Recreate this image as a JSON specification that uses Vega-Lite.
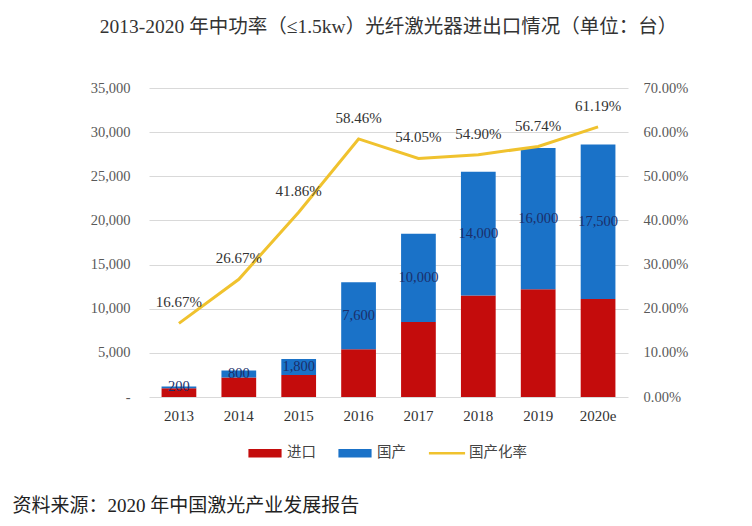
{
  "$schema": "https://vega.github.io/schema/vega-lite/v6.json",
  "width": 479,
  "height": 309,
  "autosize": {"type": "none"},
  "padding": {"left": 149, "top": 88, "right": 124, "bottom": 129},
  "background": "white",
  "config": {"view": {"stroke": null}},
  "title": {
    "text": "2013-2020 年中功率（≤1.5kw）光纤激光器进出口情况（单位：台）",
    "font": "Liberation Serif, Noto Sans CJK SC",
    "fontSize": 19.5,
    "fontWeight": "normal",
    "color": "#333333",
    "anchor": "middle",
    "frame": "group",
    "baseline": "alphabetic",
    "offset": 28
  },
  "datasets": {
    "bars": [
      {"year": "2013", "type": "进口", "value": 1000},
      {"year": "2013", "type": "国产", "value": 200},
      {"year": "2014", "type": "进口", "value": 2200},
      {"year": "2014", "type": "国产", "value": 800},
      {"year": "2015", "type": "进口", "value": 2500},
      {"year": "2015", "type": "国产", "value": 1800},
      {"year": "2016", "type": "进口", "value": 5400},
      {"year": "2016", "type": "国产", "value": 7600},
      {"year": "2017", "type": "进口", "value": 8500},
      {"year": "2017", "type": "国产", "value": 10000},
      {"year": "2018", "type": "进口", "value": 11500},
      {"year": "2018", "type": "国产", "value": 14000},
      {"year": "2019", "type": "进口", "value": 12200},
      {"year": "2019", "type": "国产", "value": 16000},
      {"year": "2020e", "type": "进口", "value": 11100},
      {"year": "2020e", "type": "国产", "value": 17500}
    ],
    "ratio": [
      {"year": "2013", "ratio": 0.1667},
      {"year": "2014", "ratio": 0.2667},
      {"year": "2015", "ratio": 0.4186},
      {"year": "2016", "ratio": 0.5846},
      {"year": "2017", "ratio": 0.5405},
      {"year": "2018", "ratio": 0.549},
      {"year": "2019", "ratio": 0.5674},
      {"year": "2020e", "ratio": 0.6119}
    ]
  },
  "encoding": {
    "x": {
      "field": "year",
      "type": "nominal",
      "scale": {"domain": ["2013", "2014", "2015", "2016", "2017", "2018", "2019", "2020e"], "paddingInner": 0.42, "paddingOuter": 0.21},
      "title": "资料来源：2020 年中国激光产业发展报告",
      "axis": {
        "labelAngle": 0,
        "labelFont": "Liberation Serif",
        "labelFontSize": 15,
        "labelColor": "#333333",
        "labelPadding": 11,
        "ticks": false,
        "domain": false,
        "titleFont": "Liberation Serif, Noto Sans CJK SC",
        "titleFontSize": 19,
        "titleFontWeight": "normal",
        "titleColor": "#222222",
        "titleAnchor": "start",
        "titleAlign": "left",
        "titleBaseline": "middle",
        "titleX": -137,
        "titleY": 108
      }
    }
  },
  "layer": [
    {
      "data": {"name": "bars"},
      "transform": [
        {"stack": "value", "groupby": ["year"], "sort": [{"field": "type", "order": "descending"}], "as": ["v0", "v1"]}
      ],
      "encoding": {
        "y": {
          "field": "v1",
          "type": "quantitative",
          "title": null,
          "scale": {"domain": [0, 35000]},
          "axis": {
            "orient": "left",
            "values": [0, 5000, 10000, 15000, 20000, 25000, 30000, 35000],
            "labelExpr": "datum.value === 0 ? '-' : format(datum.value, ',')",
            "labelFont": "Liberation Serif",
            "labelFontSize": 14.5,
            "labelColor": "#595959",
            "labelPadding": 19,
            "ticks": false,
            "domain": false,
            "grid": true,
            "gridColor": "#d9d9d9"
          }
        }
      },
      "layer": [
        {
          "mark": {"type": "bar"},
          "encoding": {
            "y2": {"field": "v0"},
            "color": {
              "field": "type",
              "type": "nominal",
              "scale": {"domain": ["进口", "国产", "国产化率"], "range": ["#c40c0c", "#1a72c8", "#f0c22e"]},
              "legend": {
                "orient": "none",
                "legendX": 99,
                "legendY": 348,
                "direction": "horizontal",
                "title": null,
                "labelFont": "Liberation Serif, Noto Sans CJK SC",
                "labelFontSize": 14.5,
                "labelColor": "#444444",
                "columnPadding": 22,
                "labelOffset": 5,
                "symbolSize": 1100,
                "symbolType": "M-1,-0.25H1V0.25H-1Z",
                "encode": {
                  "symbols": {
                    "update": {
                      "shape": {"signal": "datum.value === '国产化率' ? 'M-1.09,-0.07H1.09V0.07H-1.09Z' : 'M-1,-0.25H1V0.25H-1Z'"},
                      "fill": {"signal": "scale('color', datum.value)"},
                      "strokeWidth": {"value": 0},
                      "opacity": {"value": 1}
                    }
                  }
                }
              }
            }
          }
        },
        {
          "mark": {"type": "text", "font": "Liberation Serif", "fontSize": 14.5, "color": "#1b2f6b", "baseline": "middle"},
          "encoding": {
            "y": {
              "aggregate": "mean",
              "field": "v1",
              "type": "quantitative",
              "title": null,
              "scale": {"domain": [0, 35000]},
              "axis": {
                "orient": "left",
                "values": [0, 5000, 10000, 15000, 20000, 25000, 30000, 35000],
                "labelExpr": "datum.value === 0 ? '-' : format(datum.value, ',')",
                "labelFont": "Liberation Serif",
                "labelFontSize": 14.5,
                "labelColor": "#595959",
                "labelPadding": 19,
                "ticks": false,
                "domain": false,
                "grid": true,
                "gridColor": "#d9d9d9"
              }
            },
            "text": {"aggregate": {"argmax": "v1"}, "field": "value", "type": "quantitative", "format": ","}
          }
        }
      ]
    },
    {
      "data": {"name": "ratio"},
      "encoding": {
        "y": {
          "field": "ratio",
          "type": "quantitative",
          "title": null,
          "scale": {"domain": [0, 0.7]},
          "axis": {
            "orient": "right",
            "values": [0, 0.1, 0.2, 0.3, 0.4, 0.5, 0.6, 0.7],
            "format": ".2%",
            "labelFont": "Liberation Serif",
            "labelFontSize": 14.5,
            "labelColor": "#595959",
            "labelPadding": 15,
            "ticks": false,
            "domain": false,
            "grid": false
          }
        }
      },
      "layer": [
        {
          "mark": {"type": "line", "strokeWidth": 3},
          "encoding": {
            "color": {"datum": "国产化率", "legend": null}
          }
        },
        {
          "mark": {"type": "text", "font": "Liberation Serif", "fontSize": 15, "color": "#333333", "dy": -21, "baseline": "middle"},
          "encoding": {
            "text": {"field": "ratio", "type": "quantitative", "format": ".2%"}
          }
        }
      ]
    }
  ],
  "resolve": {"scale": {"y": "independent"}}
}
